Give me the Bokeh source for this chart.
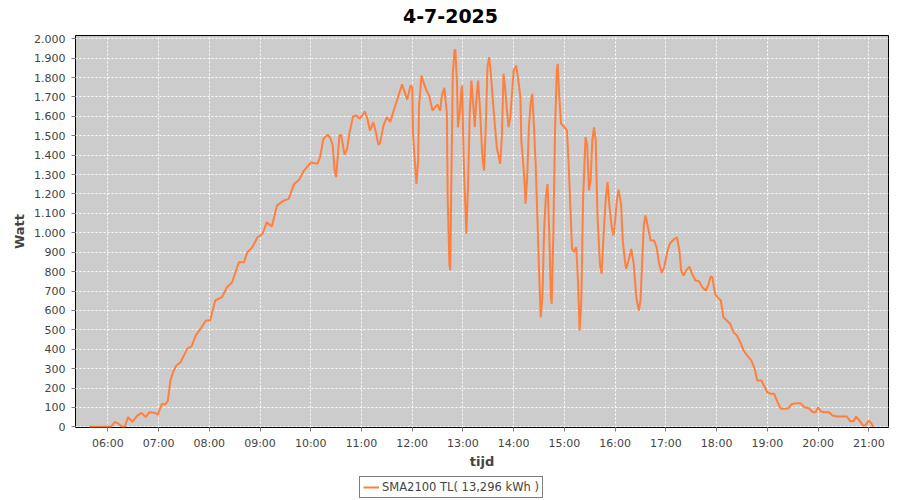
from bokeh.plotting import figure
from bokeh.layouts import column
from bokeh.models import (ColumnDataSource, FixedTicker, Range1d, Legend, LegendItem, Label)
from bokeh.embed import file_html
from bokeh.resources import INLINE

# ---------------- data ----------------
title_text = "4-7-2025"
series_name = "SMA2100 TL( 13,296 kWh )"
x_label = "tijd"
y_label = "Watt"

times = [
    "05:38", "06:04", "06:08", "06:13", "06:17", "06:20", "06:24", "06:29", "06:35", "06:40",
    "06:45", "06:49", "06:55", "06:59", "07:04", "07:08", "07:11", "07:14", "07:18", "07:21",
    "07:26", "07:31", "07:34", "07:39", "07:44", "07:50", "07:56", "08:01", "08:07", "08:15",
    "08:21", "08:27", "08:35", "08:41", "08:45", "08:51", "08:57", "09:03", "09:08", "09:14",
    "09:20", "09:28", "09:34", "09:40", "09:46", "09:52", "10:00", "10:08", "10:11", "10:15",
    "10:20", "10:23", "10:26", "10:28", "10:30", "10:32", "10:34", "10:36", "10:40", "10:43",
    "10:46", "10:50", "10:54", "10:58", "11:04", "11:07", "11:10", "11:14", "11:17", "11:20",
    "11:22", "11:26", "11:30", "11:34", "11:40", "11:48", "11:54", "11:58", "12:00", "12:01",
    "12:03", "12:05", "12:07", "12:08", "12:11", "12:14", "12:17", "12:20", "12:24", "12:27",
    "12:30", "12:33", "12:35", "12:38", "12:41", "12:42", "12:44", "12:45", "12:46", "12:48",
    "12:50", "12:51", "12:53", "12:54", "12:56", "12:58", "12:59", "13:01", "13:03", "13:04",
    "13:06", "13:08", "13:10", "13:12", "13:14", "13:16", "13:18", "13:20", "13:23", "13:25",
    "13:27", "13:29", "13:31", "13:33", "13:35", "13:38", "13:40", "13:44", "13:46", "13:48",
    "13:50", "13:52", "13:54", "13:56", "13:58", "14:00", "14:03", "14:05", "14:08", "14:09",
    "14:11", "14:13", "14:14", "14:16", "14:18", "14:20", "14:22", "14:24", "14:26", "14:28",
    "14:30", "14:32", "14:34", "14:36", "14:38", "14:40", "14:42", "14:44", "14:45", "14:47",
    "14:49", "14:51", "14:52", "14:54", "14:56", "14:59", "15:03", "15:05", "15:09", "15:11",
    "15:14", "15:16", "15:18", "15:20", "15:22", "15:25", "15:27", "15:29", "15:31", "15:33",
    "15:35", "15:37", "15:39", "15:42", "15:44", "15:46", "15:49", "15:51", "15:53", "15:56",
    "15:58", "16:00", "16:02", "16:04", "16:07", "16:09", "16:12", "16:13", "16:16", "16:19",
    "16:22", "16:25", "16:28", "16:30", "16:32", "16:34", "16:36", "16:39", "16:42", "16:46",
    "16:49", "16:52", "16:55", "16:58", "17:02", "17:05", "17:09", "17:13", "17:16", "17:18",
    "17:21", "17:24", "17:28", "17:31", "17:35", "17:39", "17:43", "17:47", "17:50", "17:53",
    "17:55", "17:58", "18:01", "18:05", "18:08", "18:12", "18:16", "18:20", "18:24", "18:28",
    "18:32", "18:36", "18:41", "18:45", "18:48", "18:53", "18:56", "19:00", "19:04", "19:08",
    "19:12", "19:16", "19:22", "19:25", "19:29", "19:35", "19:39", "19:44", "19:49", "19:54",
    "19:57", "20:00", "20:03", "20:07", "20:13", "20:17", "20:23", "20:34", "20:38", "20:42",
    "20:45", "20:49", "20:53", "20:56", "21:00", "21:03", "21:05",
]

watts = [
    0, 0, 25, 15, 0, 0, 50, 25, 58, 72,
    50, 75, 73, 63, 118, 115, 135, 239, 290, 316,
    333, 376, 403, 415, 470, 507, 548, 548, 651, 668,
    720, 745, 848, 848, 900, 926, 977, 995, 1055, 1032,
    1140, 1166, 1175, 1250, 1272, 1321, 1362, 1356, 1390, 1485,
    1505, 1490, 1450, 1330, 1287, 1398, 1502, 1505, 1402, 1433,
    1519, 1600, 1605, 1588, 1625, 1588, 1527, 1570, 1519, 1453,
    1465, 1553, 1596, 1572, 1656, 1765, 1686, 1759, 1750, 1510,
    1373, 1252, 1373, 1647, 1811, 1768, 1733, 1708, 1630, 1647,
    1661, 1630, 1708, 1747, 1620, 1166, 840, 808, 1166, 1820,
    1940, 1945, 1768, 1544, 1605, 1733, 1759, 1356, 1115, 995,
    1235, 1613, 1785, 1673, 1544, 1699, 1785, 1647, 1390, 1321,
    1544, 1854, 1905, 1820, 1699, 1544, 1441, 1356, 1493, 1820,
    1742, 1630, 1544, 1596, 1716, 1837, 1862, 1802, 1699, 1476,
    1373, 1252, 1150, 1287, 1544, 1665, 1716, 1544, 1356, 1080,
    806, 565, 668, 1012, 1183, 1252, 1012, 668, 634, 1012,
    1544, 1837, 1871, 1699, 1562, 1550, 1527, 1356, 920, 900,
    926, 754, 496, 651, 1166, 1493, 1450, 1218, 1270, 1476,
    1544, 1476, 1098, 840, 789, 960, 1183, 1261, 1149, 1029,
    986, 1063, 1166, 1222, 1149, 960, 840, 814, 860, 917,
    840, 668, 599, 651, 860, 1046, 1089, 1025, 960, 960,
    926, 840, 794, 823, 909, 946, 964, 977, 909, 806,
    780, 806, 826, 789, 754, 750, 720, 703, 728, 775,
    771, 686, 668, 651, 565, 548, 531, 488, 471, 436,
    393, 368, 342, 299, 239, 239, 213, 178, 170, 170,
    127, 93, 93, 96, 118, 122, 122, 101, 96, 75,
    75, 101, 80, 75, 75, 58, 53, 53, 29, 29,
    53, 32, 7, 7, 32, 18, 0,
]

x_tick_hours = list(range(6, 22))
x_tick_labels = ["%02d:00" % h for h in x_tick_hours]
y_tick_values = list(range(0, 2001, 100))
y_tick_labels = ["{:,}".format(v).replace(",", ".") for v in y_tick_values]

assert len(times) == len(watts)

# ---------------- styling ----------------
FONT = "DejaVu Sans"
TXT = "#444444"
LINE = "#FF7F3F"

hours = [int(t[:2]) + int(t[3:]) / 60.0 for t in times]
src = ColumnDataSource(dict(x=hours, y=watts))

# strips are aligned with the main frame, whose left edge sits 75px in
FRAME_LEFT = 75

# ---------------- title strip ----------------
pt = figure(width=900, height=34, output_backend="svg", toolbar_location=None,
            x_axis_type=None, y_axis_type=None, x_range=Range1d(0, 1), y_range=Range1d(0, 1),
            min_border=0, outline_line_color=None)
pt.background_fill_color = "white"
pt.border_fill_color = "white"
pt.grid.visible = False
pt.add_layout(Label(x=450 - FRAME_LEFT, y=19, x_units="screen", y_units="screen", text=title_text,
                    text_font=FONT, text_font_size="19px", text_font_style="bold",
                    text_color="black", text_align="center", text_baseline="middle"))

# ---------------- main chart ----------------
p = figure(width=900, height=438, output_backend="svg", toolbar_location=None,
           x_range=Range1d(5.363, 21.388), y_range=Range1d(-3.6, 2017),
           min_border_left=75, min_border_right=12, min_border_top=1, min_border_bottom=45)

p.background_fill_color = "#CCCCCC"
p.border_fill_color = "white"
p.outline_line_color = "black"
p.outline_line_width = 1

p.xgrid.ticker = FixedTicker(ticks=x_tick_hours)
p.ygrid.ticker = FixedTicker(ticks=y_tick_values)
for g in (p.xgrid, p.ygrid):
    g.grid_line_color = "white"
    g.grid_line_dash = "2 2"
    g.grid_line_width = 1

p.xaxis.ticker = FixedTicker(ticks=x_tick_hours)
p.xaxis.major_label_overrides = {h: lab for h, lab in zip(x_tick_hours, x_tick_labels)}
p.yaxis.ticker = FixedTicker(ticks=y_tick_values)
p.yaxis.major_label_overrides = {v: lab for v, lab in zip(y_tick_values, y_tick_labels)}

p.xaxis.axis_label = x_label
p.yaxis.axis_label = y_label
for ax in (p.xaxis[0], p.yaxis[0]):
    ax.axis_line_color = None
    ax.major_tick_line_color = "#808080"
    ax.major_tick_out = 4
    ax.major_tick_in = 0
    ax.minor_tick_line_color = None
    ax.major_label_text_font = FONT
    ax.major_label_text_font_size = "11px"
    ax.major_label_text_color = TXT
    ax.axis_label_text_font = FONT
    ax.axis_label_text_font_size = "13px"
    ax.axis_label_text_font_style = "bold"
    ax.axis_label_text_color = TXT
p.xaxis.major_label_standoff = 5
p.yaxis.major_label_standoff = 6
p.xaxis.axis_label_standoff = 1
p.yaxis.axis_label_standoff = 4

r = p.line("x", "y", source=src, line_color=LINE, line_width=2)

# ---------------- legend strip ----------------
pl = figure(width=900, height=28, output_backend="svg", toolbar_location=None,
            x_axis_type=None, y_axis_type=None, x_range=Range1d(0, 1), y_range=Range1d(0, 1),
            min_border=0, outline_line_color=None)
pl.background_fill_color = "white"
pl.border_fill_color = "white"
pl.grid.visible = False
# same series, outside this strip's ranges: only its legend key shows
r_key = pl.line("x", "y", source=src, line_color=LINE, line_width=2)

legend = Legend(items=[LegendItem(label=series_name, renderers=[r_key])],
                location=(359 - FRAME_LEFT, 2), orientation="horizontal")
legend.border_line_color = "black"
legend.border_line_width = 1
legend.background_fill_color = "white"
legend.background_fill_alpha = 1
legend.padding = 3
legend.margin = 0
legend.spacing = 0
legend.glyph_width = 16
legend.glyph_height = 14
legend.label_height = 14
legend.label_standoff = 3
legend.label_text_font = FONT
legend.label_text_font_size = "11.5px"
legend.label_text_color = TXT
pl.add_layout(legend, "center")

layout = column(pt, p, pl, spacing=0)
open("out.html", "w").write(file_html(layout, INLINE))
